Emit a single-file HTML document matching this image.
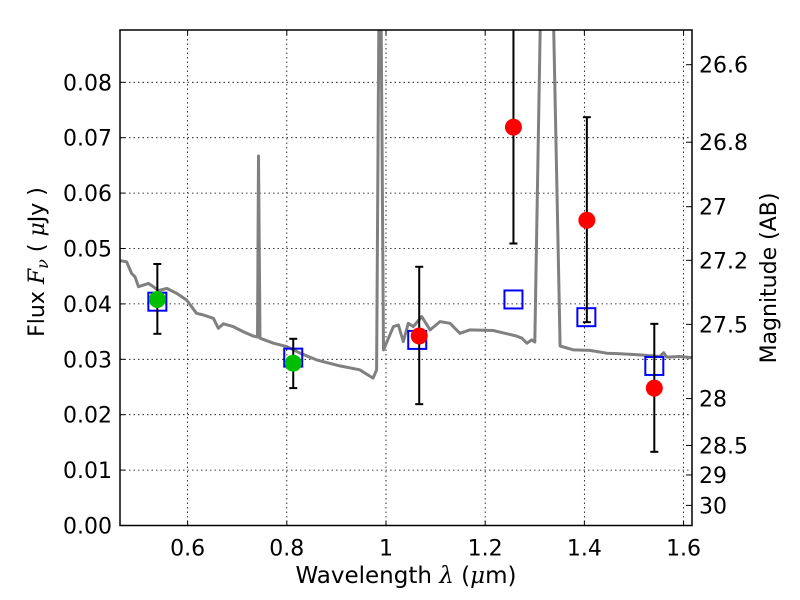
<!DOCTYPE html>
<html><head><meta charset="utf-8">
<style>
html,body{margin:0;padding:0;background:#fff;}
svg{display:block;font-family:"DejaVu Sans","Liberation Sans",sans-serif;}
</style></head>
<body>
<svg id="chart" width="800" height="600" viewBox="0 0 800 600" xmlns="http://www.w3.org/2000/svg">
<defs><clipPath id="plotclip"><rect x="120" y="30" width="572" height="495.5"/></clipPath></defs>
<rect x="0" y="0" width="800" height="600" fill="#fff"/>
<g id="grid"></g>
<g id="spec" clip-path="url(#plotclip)"></g>
<g id="marks" clip-path="url(#plotclip)"></g>
<g id="axes"></g>
<text x="406" y="583" font-size="23" text-anchor="middle">Wavelength  <tspan font-family="DejaVu Serif" font-style="italic">λ</tspan> (<tspan font-family="DejaVu Serif" font-style="italic">μ</tspan>m)</text>
<text transform="translate(44,262) rotate(-90)" font-size="22" text-anchor="middle">Flux  <tspan font-family="DejaVu Serif" font-style="italic">F</tspan><tspan font-family="DejaVu Serif" font-style="italic" font-size="16" dy="4">ν</tspan><tspan dy="-4">   ( </tspan><tspan font-family="DejaVu Serif" font-style="italic">μ</tspan>Jy )</text>
<text transform="translate(776,278) rotate(-90)" font-size="22" text-anchor="middle">Magnitude (AB)</text>
</svg>
<script>
const specWave = [0.465,0.477,0.487,0.494,0.501,0.511,0.521,0.531,0.541,0.558,0.578,0.598,0.608,0.618,0.632,0.652,0.662,0.672,0.692,0.712,0.732,0.741,0.743,0.746,0.773,0.800,0.827,0.860,0.907,0.947,0.974,0.981,0.986,0.990,0.995,1.015,1.025,1.035,1.045,1.055,1.072,1.089,1.109,1.129,1.149,1.169,1.216,1.263,1.274,1.284,1.294,1.300,1.312,1.337,1.351,1.378,1.411,1.445,1.472,1.512,1.552,1.560,1.566,1.592,1.616];
const specFlux = [0.0478,0.0476,0.0455,0.0449,0.0431,0.0434,0.0437,0.0431,0.0424,0.0428,0.0419,0.0407,0.0395,0.0383,0.0380,0.0374,0.0356,0.0364,0.0359,0.0350,0.0342,0.0340,0.0667,0.0338,0.0329,0.0323,0.0311,0.0299,0.0288,0.0281,0.0266,0.0281,0.0950,0.0950,0.0317,0.0359,0.0362,0.0332,0.0365,0.0359,0.0377,0.0353,0.0368,0.0365,0.0347,0.0353,0.0352,0.0342,0.0338,0.0329,0.0335,0.0331,0.0950,0.0950,0.0324,0.0317,0.0316,0.0311,0.0310,0.0308,0.0305,0.0312,0.0304,0.0305,0.0303];
const modelWave = [0.539,0.813,1.063,1.257,1.404,1.541];
const modelFlux = [0.0404,0.0303,0.0335,0.0408,0.0376,0.0288];
const greenWave = [0.539,0.813];
const greenFlux = [0.0408,0.0293];
const greenLo = [0.0346,0.0248];
const greenHi = [0.0472,0.0337];
const redWave = [1.067,1.257,1.405,1.541];
const redFlux = [0.0342,0.0719,0.0551,0.0248];
const redLo = [0.0219,0.0509,0.0367,0.0133];
const redHi = [0.0467,0.0929,0.0737,0.0364];
const xTicks = [0.6,0.8,1.0,1.2,1.4,1.6];
const xTickLabels = ["0.6","0.8","1","1.2","1.4","1.6"];
const yTicks = [0,0.01,0.02,0.03,0.04,0.05,0.06,0.07,0.08];
const yTickLabels = ["0.00","0.01","0.02","0.03","0.04","0.05","0.06","0.07","0.08"];
const magTicks = [26.6,26.8,27,27.2,27.5,28,28.5,29,30];
const magTickLabels = ["26.6","26.8","27","27.2","27.5","28","28.5","29","30"];

const L=120,R=692,T=30,B=525.5;
const XMIN=0.4637,XMAX=1.617,YMIN=0,YMAX=0.08944;
const sx=v=>L+(v-XMIN)/(XMAX-XMIN)*(R-L);
const sy=v=>B-(v-YMIN)/(YMAX-YMIN)*(B-T);
const NS="http://www.w3.org/2000/svg";
function mk(tag,attrs,parent){const e=document.createElementNS(NS,tag);for(const k in attrs)e.setAttribute(k,attrs[k]);parent.appendChild(e);return e;}
const grid=document.getElementById('grid'),spec=document.getElementById('spec'),marks=document.getElementById('marks'),axes=document.getElementById('axes');

xTicks.forEach((t,i)=>{
  const x=sx(t);
  const g=mk('line',{x1:x,x2:x,y1:T,y2:B,stroke:'#000','stroke-width':0.8,'stroke-dasharray':'1.5,3'},grid);
  
  
  mk('line',{x1:x,x2:x,y1:B,y2:B-5,stroke:'#000','stroke-width':1},axes);
  mk('line',{x1:x,x2:x,y1:T,y2:T+5,stroke:'#000','stroke-width':1},axes);
  const tx=mk('text',{x:x,y:B+30,'font-size':22,'text-anchor':'middle'},axes);
  tx.textContent=xTickLabels[i];
  
  
});
yTicks.forEach((t,i)=>{
  const y=sy(t);
  if(t>0){
    const g=mk('line',{x1:L,x2:R,y1:y,y2:y,stroke:'#000','stroke-width':0.8,'stroke-dasharray':'1.5,3'},grid);
    
    
  }
  mk('line',{x1:L,x2:L+5,y1:y,y2:y,stroke:'#000','stroke-width':1},axes);
  const tx=mk('text',{x:112,y:y+8,'font-size':22,'text-anchor':'end'},axes);
  tx.textContent=yTickLabels[i];
  
  
});
magTicks.forEach((m,i)=>{
  const f=Math.pow(10,(23.9-m)/2.5);
  const y=sy(f);
  mk('line',{x1:R-6,x2:R,y1:y,y2:y,stroke:'#000','stroke-width':1},axes);
  const tx=mk('text',{x:699,y:y+8,'font-size':22,'text-anchor':'start'},axes);
  tx.textContent=magTickLabels[i];
  
  
});

const pts=specWave.map((w,i)=>sx(w).toFixed(1)+','+sy(specFlux[i]).toFixed(1)).join(' ');
const line=mk('polyline',{points:pts,fill:'none',stroke:'#808080','stroke-width':3,'stroke-linejoin':'round'},spec);



function errbar(x,lo,hi){
  const X=sx(x);
  mk('line',{x1:X,x2:X,y1:sy(lo),y2:sy(hi),stroke:'#000','stroke-width':2},marks);
  mk('line',{x1:X-4,x2:X+4,y1:sy(lo),y2:sy(lo),stroke:'#000','stroke-width':2},marks);
  mk('line',{x1:X-4,x2:X+4,y1:sy(hi),y2:sy(hi),stroke:'#000','stroke-width':2},marks);
}
modelWave.forEach((w,i)=>{
  const r=mk('rect',{x:sx(w)-9,y:sy(modelFlux[i])-9,width:18,height:18,fill:'none',stroke:'#0000ff','stroke-width':2},marks);
  
  
});
greenWave.forEach((w,i)=>{
  errbar(w,greenLo[i],greenHi[i]);
  const c=mk('circle',{cx:sx(w),cy:sy(greenFlux[i]),r:8.5,fill:'#00bf00'},marks);
  
  
});
redWave.forEach((w,i)=>{
  errbar(w,redLo[i],redHi[i]);
  const c=mk('circle',{cx:sx(w),cy:sy(redFlux[i]),r:8.5,fill:'#ff0000'},marks);
  
  
});
const frame=mk('rect',{x:L,y:T,width:R-L,height:B-T,fill:'none',stroke:'#000','stroke-width':1.5},axes);


</script>
</body></html>
